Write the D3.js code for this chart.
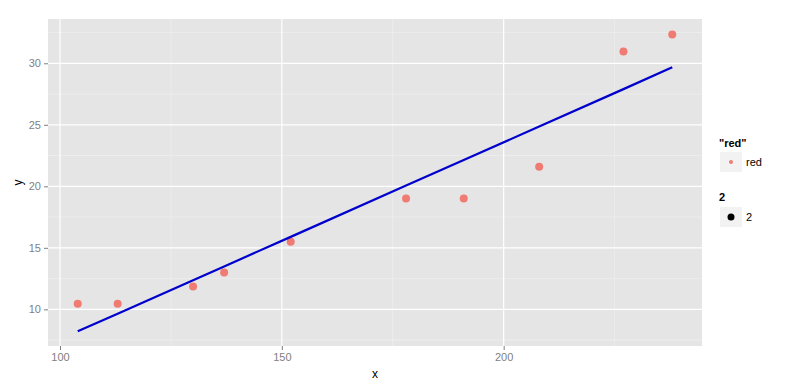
<!DOCTYPE html>
<html><head><meta charset="utf-8">
<script src="https://cdn.jsdelivr.net/npm/d3@7"></script>
<style>body{margin:0;background:#fff;} text{font-family:"Liberation Sans",Arial,sans-serif;}</style>
</head><body><svg id="c" width="796" height="391"></svg>
<script>
const pointX = [104,113,130,137,152,178,191,208,227,238];
const pointY = [10.45,10.45,11.85,13,15.5,19,19,21.6,30.95,32.35];
const lineX = [104,113,130,137,152,178,191,208,227,238];
const lineY = [8.21,9.65,12.37,13.49,15.89,20.06,22.14,24.86,27.90,29.67];
const xTicks = [100,150,200];
const yTicks = [10,15,20,25,30];
const xMinor = [125,175,225];
const yMinor = [7.5,12.5,17.5,22.5,27.5,32.5];
const legend1Title = '"red"', legend1Label = 'red';
const legend2Title = '2', legend2Label = '2';

const svg = d3.select('#c');
const L=48, R=702, T=19, B=346;
const x = d3.scaleLinear().domain([97.3,244.7]).range([L,R]);
const y = d3.scaleLinear().domain([7.02,33.6]).range([B,T]);

svg.append('rect').attr('x',L).attr('y',T).attr('width',R-L).attr('height',B-T).attr('fill','#E5E5E5');
const g = svg.append('g');
xMinor.forEach(v=>g.append('line').attr('x1',x(v)).attr('x2',x(v)).attr('y1',T).attr('y2',B).attr('stroke','#F2F2F2').attr('stroke-width',0.6));
yMinor.forEach(v=>g.append('line').attr('y1',y(v)).attr('y2',y(v)).attr('x1',L).attr('x2',R).attr('stroke','#F2F2F2').attr('stroke-width',0.6));
xTicks.forEach(v=>g.append('line').attr('x1',x(v)).attr('x2',x(v)).attr('y1',T).attr('y2',B).attr('stroke','#fff').attr('stroke-width',1.2));
yTicks.forEach(v=>g.append('line').attr('y1',y(v)).attr('y2',y(v)).attr('x1',L).attr('x2',R).attr('stroke','#fff').attr('stroke-width',1.2));

// axes
const xa = svg.append('g').attr('transform',`translate(0,${B})`).call(d3.axisBottom(x).tickValues(xTicks).tickSize(4).tickPadding(3));
const ya = svg.append('g').attr('transform',`translate(${L},0)`).call(d3.axisLeft(y).tickValues(yTicks).tickSize(4).tickPadding(3));
[xa,ya].forEach(a=>{a.select('.domain').remove();a.selectAll('line').attr('stroke','#7F7F7F');a.selectAll('text').attr('fill','#7F7F7F').style('font-size','11px');});

// points
svg.append('g').selectAll('circle').data(pointX.map((d,i)=>[d,pointY[i]])).join('circle')
  .attr('cx',d=>x(d[0])).attr('cy',d=>y(d[1])).attr('r',4).attr('fill','#F07B73');
// line
svg.append('path').datum(lineX.map((d,i)=>[d,lineY[i]]))
  .attr('d',d3.line().x(d=>x(d[0])).y(d=>y(d[1]))).attr('fill','none').attr('stroke','#0000CC').attr('stroke-width',2.2);

// axis titles
svg.append('text').attr('x',(L+R)/2).attr('y',378).attr('text-anchor','middle').style('font-size','12px').text('x');
svg.append('text').attr('transform',`translate(22,${(T+B)/2}) rotate(-90)`).attr('text-anchor','middle').style('font-size','12px').text('y');

// legend
const lg = svg.append('g');
lg.append('text').attr('x',719).attr('y',147).style('font-size','11px').style('font-weight','bold').text(legend1Title);
lg.append('rect').attr('x',720).attr('y',152).attr('width',22).attr('height',20).attr('fill','#F2F2F2');
lg.append('circle').attr('cx',731).attr('cy',162).attr('r',2).attr('fill','#F07B73');
lg.append('text').attr('x',746).attr('y',166).style('font-size','11px').text(legend1Label);
lg.append('text').attr('x',719).attr('y',201).style('font-size','11px').style('font-weight','bold').text(legend2Title);
lg.append('rect').attr('x',720).attr('y',207).attr('width',22).attr('height',20).attr('fill','#F2F2F2');
lg.append('circle').attr('cx',731).attr('cy',217).attr('r',3.5).attr('fill','#000');
lg.append('text').attr('x',746).attr('y',221).style('font-size','11px').text(legend2Label);
</script></body></html>
